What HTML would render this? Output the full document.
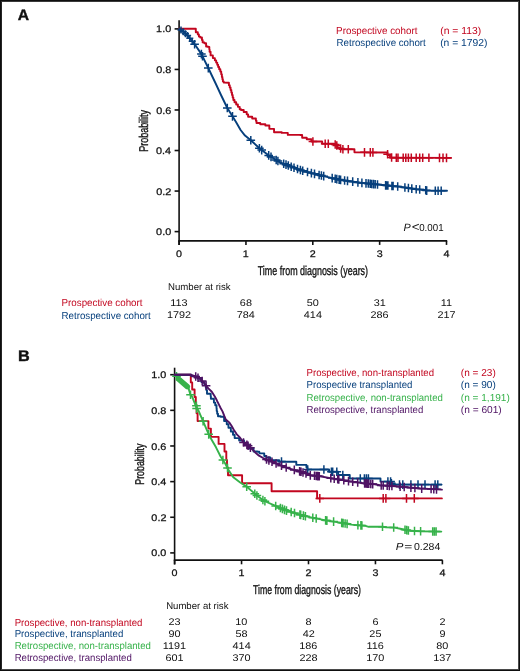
<!DOCTYPE html>
<html><head><meta charset="utf-8"><style>
html,body{margin:0;padding:0;background:#fff;}
.fig{position:relative;width:520px;height:671px;box-sizing:border-box;border:1px solid #0e0e0e;overflow:hidden;background:#fff;}
.in{position:absolute;left:0;top:0;right:0;bottom:0;border-style:solid;border-width:1px;border-color:#3a3a3a #4a4a4a #4a4a4a #252525;}
svg{position:absolute;left:-1px;top:-1px;will-change:transform;}
text{font-family:"Liberation Sans",sans-serif;text-rendering:geometricPrecision;}
</style></head><body><div class="fig"><div class="in"></div>
<svg width="520" height="671" viewBox="0 0 520 671">
<text transform="translate(17.81,20.40) scale(1.0176,1)" font-size="15.40" fill="#111" font-weight="bold" stroke="#111" stroke-width="0.4">A</text>
<line x1="179.10" y1="20.20" x2="179.10" y2="245.00" stroke="#111" stroke-width="1.6" stroke-linecap="butt"/>
<line x1="178.30" y1="240.90" x2="447.20" y2="240.90" stroke="#111" stroke-width="1.6" stroke-linecap="butt"/>
<line x1="174.60" y1="231.60" x2="179.10" y2="231.60" stroke="#111" stroke-width="1.6" stroke-linecap="butt"/>
<text transform="translate(156.10,235.15) scale(1.1300,1)" font-size="9.60" fill="#111" stroke="#111" stroke-width="0.25">0.0</text>
<line x1="174.60" y1="191.06" x2="179.10" y2="191.06" stroke="#111" stroke-width="1.6" stroke-linecap="butt"/>
<text transform="translate(156.26,194.61) scale(1.1300,1)" font-size="9.60" fill="#111" stroke="#111" stroke-width="0.25">0.2</text>
<line x1="174.60" y1="150.52" x2="179.10" y2="150.52" stroke="#111" stroke-width="1.6" stroke-linecap="butt"/>
<text transform="translate(156.05,154.07) scale(1.1300,1)" font-size="9.60" fill="#111" stroke="#111" stroke-width="0.25">0.4</text>
<line x1="174.60" y1="109.98" x2="179.10" y2="109.98" stroke="#111" stroke-width="1.6" stroke-linecap="butt"/>
<text transform="translate(156.16,113.53) scale(1.1300,1)" font-size="9.60" fill="#111" stroke="#111" stroke-width="0.25">0.6</text>
<line x1="174.60" y1="69.44" x2="179.10" y2="69.44" stroke="#111" stroke-width="1.6" stroke-linecap="butt"/>
<text transform="translate(156.16,72.99) scale(1.1300,1)" font-size="9.60" fill="#111" stroke="#111" stroke-width="0.25">0.8</text>
<line x1="174.60" y1="28.90" x2="179.10" y2="28.90" stroke="#111" stroke-width="1.6" stroke-linecap="butt"/>
<text transform="translate(156.10,32.45) scale(1.1300,1)" font-size="9.60" fill="#111" stroke="#111" stroke-width="0.25">1.0</text>
<line x1="179.10" y1="240.90" x2="179.10" y2="244.90" stroke="#111" stroke-width="1.6" stroke-linecap="butt"/>
<text transform="translate(176.09,257.00) scale(1.1300,1)" font-size="9.50" fill="#111" stroke="#111" stroke-width="0.25">0</text>
<line x1="245.95" y1="240.90" x2="245.95" y2="244.90" stroke="#111" stroke-width="1.6" stroke-linecap="butt"/>
<text transform="translate(242.81,257.00) scale(1.1300,1)" font-size="9.50" fill="#111" stroke="#111" stroke-width="0.25">1</text>
<line x1="312.80" y1="240.90" x2="312.80" y2="244.90" stroke="#111" stroke-width="1.6" stroke-linecap="butt"/>
<text transform="translate(309.82,257.00) scale(1.1300,1)" font-size="9.50" fill="#111" stroke="#111" stroke-width="0.25">2</text>
<line x1="379.65" y1="240.90" x2="379.65" y2="244.90" stroke="#111" stroke-width="1.6" stroke-linecap="butt"/>
<text transform="translate(376.67,257.00) scale(1.1300,1)" font-size="9.50" fill="#111" stroke="#111" stroke-width="0.25">3</text>
<line x1="446.50" y1="240.90" x2="446.50" y2="244.90" stroke="#111" stroke-width="1.6" stroke-linecap="butt"/>
<text transform="translate(443.57,257.00) scale(1.1300,1)" font-size="9.50" fill="#111" stroke="#111" stroke-width="0.25">4</text>
<text transform="translate(147.80,151.82) rotate(-90) scale(0.7013,1)" font-size="12.80" fill="#111" stroke="#111" stroke-width="0.35">Probability</text>
<text transform="translate(257.72,274.70) scale(0.6978,1)" font-size="12.80" fill="#111" stroke="#111" stroke-width="0.35">Time from diagnosis (years)</text>
<text transform="translate(403.38,230.70) scale(1.0183,1)" font-size="10.60" fill="#111" font-style="italic">P</text>
<text transform="translate(411.83,231.40) scale(1.0808,1)" font-size="12.40" fill="#111">&lt;</text>
<text transform="translate(419.21,230.60) scale(0.9635,1)" font-size="10.10" fill="#111">0.001</text>
<text transform="translate(336.11,33.80) scale(0.9726,1)" font-size="10.10" fill="#c2061f">Prospective cohort</text>
<text transform="translate(440.18,33.80) scale(1.0250,1)" font-size="10.10" fill="#c2061f">(n = 113)</text>
<text transform="translate(336.52,46.20) scale(0.9645,1)" font-size="10.10" fill="#063f7c">Retrospective cohort</text>
<text transform="translate(440.18,46.20) scale(1.0223,1)" font-size="10.10" fill="#063f7c">(n = 1792)</text>
<text transform="translate(168.03,290.10) scale(0.9940,1)" font-size="9.70" fill="#111">Number at risk</text>
<text transform="translate(61.52,306.30) scale(0.9690,1)" font-size="10.10" fill="#c2061f">Prospective cohort</text>
<text transform="translate(61.52,318.50) scale(0.9645,1)" font-size="10.10" fill="#063f7c">Retrospective cohort</text>
<text transform="translate(170.25,306.10) scale(1.1200,1)" font-size="9.70" fill="#111">113</text>
<text transform="translate(166.88,318.30) scale(1.1200,1)" font-size="9.70" fill="#111">1792</text>
<text transform="translate(239.87,306.10) scale(1.1200,1)" font-size="9.70" fill="#111">68</text>
<text transform="translate(236.80,318.30) scale(1.1200,1)" font-size="9.70" fill="#111">784</text>
<text transform="translate(306.74,306.10) scale(1.1200,1)" font-size="9.70" fill="#111">50</text>
<text transform="translate(303.81,318.30) scale(1.1200,1)" font-size="9.70" fill="#111">414</text>
<text transform="translate(373.65,306.10) scale(1.1200,1)" font-size="9.70" fill="#111">31</text>
<text transform="translate(370.55,318.30) scale(1.1200,1)" font-size="9.70" fill="#111">286</text>
<text transform="translate(440.71,306.10) scale(1.1200,1)" font-size="9.70" fill="#111">11</text>
<text transform="translate(437.46,318.30) scale(1.1200,1)" font-size="9.70" fill="#111">217</text>
<path d="M179.10,28.80 L194.90,28.80 L195.80,28.80 L195.80,32.20 L196.70,32.20 L197.80,32.20 L197.80,34.40 L198.90,34.40 L198.90,36.60 L200.25,36.60 L200.25,37.50 L201.60,37.50 L201.95,37.50 L201.95,39.95 L202.65,39.95 L202.65,42.40 L203.00,42.40 L204.35,42.40 L204.35,43.30 L205.70,43.30 L206.10,43.30 L206.10,46.50 L206.50,46.50 L207.85,46.50 L207.85,46.90 L209.20,46.90 L209.32,46.90 L209.32,49.35 L209.57,49.35 L209.57,51.80 L209.70,51.80 L210.60,51.80 L210.60,55.40 L211.50,55.40 L212.85,55.40 L212.85,58.10 L214.20,58.10 L214.85,58.10 L214.85,60.35 L216.15,60.35 L216.15,62.60 L216.80,62.60 L217.25,62.60 L217.25,64.80 L218.15,64.80 L218.15,67.00 L218.60,67.00 L219.18,67.00 L219.18,69.25 L220.32,69.25 L220.32,71.50 L220.90,71.50 L221.22,71.50 L221.22,74.20 L221.88,74.20 L221.88,76.90 L222.20,76.90 L222.42,76.90 L222.42,79.15 L222.88,79.15 L222.88,81.40 L223.10,81.40 L223.75,81.40 L223.75,82.50 L224.40,82.50 L228.50,82.70 L228.92,82.70 L228.92,85.13 L229.75,85.13 L229.75,87.57 L230.58,87.57 L230.58,90.00 L231.00,90.00 L231.34,90.00 L231.34,92.50 L232.01,92.50 L232.01,95.00 L232.69,95.00 L232.69,97.50 L233.36,97.50 L233.36,100.00 L233.70,100.00 L234.52,100.00 L234.52,102.25 L236.18,102.25 L236.18,104.50 L237.00,104.50 L237.90,104.50 L237.90,106.85 L239.70,106.85 L239.70,109.20 L240.60,109.20 L241.00,109.20 L241.00,110.00 L241.40,110.00 L243.70,110.00 L243.70,112.00 L246.00,112.00 L246.70,112.00 L246.70,114.35 L248.10,114.35 L248.10,116.70 L248.80,116.70 L252.20,116.70 L252.20,118.50 L255.60,118.50 L255.90,118.50 L255.90,120.75 L256.50,120.75 L256.50,123.00 L256.80,123.00 L260.25,123.00 L260.25,124.20 L263.70,124.20 L265.35,124.20 L265.35,125.50 L267.00,125.50 L269.35,125.50 L269.35,128.85 L274.05,128.85 L274.05,132.20 L276.40,132.20 L281.75,132.20 L281.75,132.90 L287.10,132.90 L287.80,132.90 L287.80,134.90 L288.50,134.90 L299.30,134.90 L300.60,135.00 L302.15,135.00 L302.15,137.70 L303.70,137.70 L306.75,137.70 L306.75,139.20 L309.80,139.20 L311.35,139.20 L311.35,141.50 L312.90,141.50 L321.40,141.50 L322.15,141.50 L322.15,143.80 L322.90,143.80 L332.20,143.80 L334.10,143.80 L334.10,144.60 L336.00,144.60 L337.50,144.60 L337.50,147.70 L339.00,147.70 L340.60,147.70 L340.60,149.20 L342.20,149.20 L353.70,149.20 L354.45,149.20 L354.45,152.30 L355.20,152.30 L386.80,152.50 L387.40,152.50 L387.40,155.10 L388.00,155.10 L390.00,155.10 L390.00,157.70 L392.00,157.70 L451.20,157.90" fill="none" stroke="#c2061f" stroke-width="1.9" stroke-linejoin="round" stroke-linecap="round"/>
<path d="M308.60,141.50h8.60M312.90,137.20v8.60M320.90,143.80h8.60M325.20,139.50v8.60M324.00,143.80h8.60M328.30,139.50v8.60M330.90,144.43h8.60M335.20,140.13v8.60M332.50,145.43h8.60M336.80,141.13v8.60M336.30,148.45h8.60M340.60,144.15v8.60M338.60,149.20h8.60M342.90,144.90v8.60M344.00,149.20h8.60M348.30,144.90v8.60M360.20,152.36h8.60M364.50,148.06v8.60M366.00,152.40h8.60M370.30,148.10v8.60M368.60,152.41h8.60M372.90,148.11v8.60M383.30,154.23h8.60M387.60,149.93v8.60M387.30,157.44h8.60M391.60,153.14v8.60M392.00,157.71h8.60M396.30,153.41v8.60M393.70,157.72h8.60M398.00,153.42v8.60M398.90,157.74h8.60M403.20,153.44v8.60M401.50,157.75h8.60M405.80,153.45v8.60M404.10,157.76h8.60M408.40,153.46v8.60M407.00,157.77h8.60M411.30,153.47v8.60M411.90,157.78h8.60M416.20,153.48v8.60M415.40,157.79h8.60M419.70,153.49v8.60M418.40,157.80h8.60M422.70,153.50v8.60M424.60,157.82h8.60M428.90,153.52v8.60M435.20,157.86h8.60M439.50,153.56v8.60M438.70,157.87h8.60M443.00,153.57v8.60M442.20,157.88h8.60M446.50,153.58v8.60" fill="none" stroke="#c2061f" stroke-width="1.5"/>
<path d="M179.30,28.80 L183.50,32.00 L187.50,35.50 L193.30,42.50 L195.40,45.30 L201.60,54.40 L208.50,68.50 L215.90,84.00 L221.00,95.00 L227.30,108.00 L233.10,117.30 L236.00,122.00 L240.60,130.00 L245.00,135.60 L250.80,140.20 L260.00,148.80 L269.20,155.80 L279.60,162.10 L291.20,166.70 L302.70,170.80 L311.40,173.10 L326.80,176.90 L340.00,179.80 L360.00,182.70 L380.00,184.80 L400.00,186.70 L416.00,189.30 L425.00,189.90 L426.50,190.60 L447.00,190.80" fill="none" stroke="#063f7c" stroke-width="1.9" stroke-linejoin="round" stroke-linecap="round"/>
<path d="M177.50,30.10h7.00M181.00,26.60v7.00M179.80,31.85h7.00M183.30,28.35v7.00M182.00,33.75h7.00M185.50,30.25v7.00M184.10,35.62h7.00M187.60,32.12v7.00M186.30,38.28h7.00M189.80,34.78v7.00M188.70,41.17h7.00M192.20,37.67v7.00" fill="none" stroke="#063f7c" stroke-width="1.5"/>
<path d="M190.30,44.23h8.60M194.60,39.93v8.60M197.10,54.11h8.60M201.40,49.81v8.60M198.20,56.24h8.60M202.50,51.94v8.60M204.00,68.09h8.60M208.30,63.79v8.60M223.00,108.00h8.60M227.30,103.70v8.60M228.20,116.34h8.60M232.50,112.04v8.60M246.50,140.20h8.60M250.80,135.90v8.60M255.10,148.24h8.60M259.40,143.94v8.60M257.40,150.09h8.60M261.70,145.79v8.60M264.40,155.42h8.60M268.70,151.12v8.60M266.70,156.89h8.60M271.00,152.59v8.60M271.90,160.04h8.60M276.20,155.74v8.60M273.60,161.07h8.60M277.90,156.77v8.60M279.40,163.73h8.60M283.70,159.43v8.60M281.70,164.64h8.60M286.00,160.34v8.60M284.00,165.55h8.60M288.30,161.25v8.60M286.90,166.70h8.60M291.20,162.40v8.60M289.70,167.70h8.60M294.00,163.40v8.60M293.20,168.95h8.60M297.50,164.65v8.60M296.10,169.98h8.60M300.40,165.68v8.60M298.40,170.80h8.60M302.70,166.50v8.60M303.20,172.07h8.60M307.50,167.77v8.60M307.10,173.10h8.60M311.40,168.80v8.60M310.20,173.86h8.60M314.50,169.56v8.60M314.80,175.00h8.60M319.10,170.70v8.60M317.10,175.57h8.60M321.40,171.27v8.60M319.40,176.14h8.60M323.70,171.84v8.60M327.90,178.09h8.60M332.20,173.79v8.60M330.90,178.75h8.60M335.20,174.45v8.60M332.50,179.10h8.60M336.80,174.80v8.60M334.80,179.60h8.60M339.10,175.30v8.60M336.30,179.89h8.60M340.60,175.59v8.60M340.30,180.47h8.60M344.60,176.17v8.60M343.20,180.89h8.60M347.50,176.59v8.60M348.40,181.64h8.60M352.70,177.34v8.60M353.60,182.40h8.60M357.90,178.10v8.60M357.60,182.90h8.60M361.90,178.60v8.60M361.70,183.33h8.60M366.00,179.03v8.60M364.00,183.57h8.60M368.30,179.27v8.60M365.90,183.77h8.60M370.20,179.47v8.60M367.40,183.93h8.60M371.70,179.63v8.60M369.20,184.12h8.60M373.50,179.82v8.60M370.90,184.30h8.60M375.20,180.00v8.60M373.20,184.54h8.60M377.50,180.24v8.60M381.30,185.33h8.60M385.60,181.03v8.60M382.40,185.44h8.60M386.70,181.14v8.60M383.60,185.55h8.60M387.90,181.25v8.60M387.60,185.93h8.60M391.90,181.63v8.60M388.80,186.04h8.60M393.10,181.74v8.60M393.40,186.48h8.60M397.70,182.18v8.60M400.60,187.50h8.60M404.90,183.20v8.60M404.10,188.06h8.60M408.40,183.76v8.60M407.50,188.62h8.60M411.80,184.32v8.60M411.90,189.31h8.60M416.20,185.01v8.60M415.40,189.55h8.60M419.70,185.25v8.60M421.40,190.23h8.60M425.70,185.93v8.60M422.40,190.60h8.60M426.70,186.30v8.60M431.00,190.69h8.60M435.30,186.39v8.60M433.80,190.71h8.60M438.10,186.41v8.60M436.90,190.74h8.60M441.20,186.44v8.60" fill="none" stroke="#063f7c" stroke-width="1.5"/>
<text transform="translate(17.95,361.00) scale(1.0539,1)" font-size="15.40" fill="#111" font-weight="bold" stroke="#111" stroke-width="0.4">B</text>
<line x1="174.60" y1="367.70" x2="174.60" y2="564.50" stroke="#111" stroke-width="1.6" stroke-linecap="butt"/>
<line x1="173.80" y1="560.10" x2="442.60" y2="560.10" stroke="#111" stroke-width="1.6" stroke-linecap="butt"/>
<line x1="170.20" y1="552.90" x2="174.60" y2="552.90" stroke="#111" stroke-width="1.6" stroke-linecap="butt"/>
<text transform="translate(151.20,556.45) scale(1.1300,1)" font-size="9.60" fill="#111" stroke="#111" stroke-width="0.25">0.0</text>
<line x1="170.20" y1="517.26" x2="174.60" y2="517.26" stroke="#111" stroke-width="1.6" stroke-linecap="butt"/>
<text transform="translate(151.36,520.81) scale(1.1300,1)" font-size="9.60" fill="#111" stroke="#111" stroke-width="0.25">0.2</text>
<line x1="170.20" y1="481.62" x2="174.60" y2="481.62" stroke="#111" stroke-width="1.6" stroke-linecap="butt"/>
<text transform="translate(151.15,485.17) scale(1.1300,1)" font-size="9.60" fill="#111" stroke="#111" stroke-width="0.25">0.4</text>
<line x1="170.20" y1="445.98" x2="174.60" y2="445.98" stroke="#111" stroke-width="1.6" stroke-linecap="butt"/>
<text transform="translate(151.26,449.53) scale(1.1300,1)" font-size="9.60" fill="#111" stroke="#111" stroke-width="0.25">0.6</text>
<line x1="170.20" y1="410.34" x2="174.60" y2="410.34" stroke="#111" stroke-width="1.6" stroke-linecap="butt"/>
<text transform="translate(151.26,413.89) scale(1.1300,1)" font-size="9.60" fill="#111" stroke="#111" stroke-width="0.25">0.8</text>
<line x1="170.20" y1="374.70" x2="174.60" y2="374.70" stroke="#111" stroke-width="1.6" stroke-linecap="butt"/>
<text transform="translate(151.20,378.25) scale(1.1300,1)" font-size="9.60" fill="#111" stroke="#111" stroke-width="0.25">1.0</text>
<line x1="174.60" y1="560.10" x2="174.60" y2="564.30" stroke="#111" stroke-width="1.6" stroke-linecap="butt"/>
<text transform="translate(171.59,576.40) scale(1.1300,1)" font-size="9.50" fill="#111" stroke="#111" stroke-width="0.25">0</text>
<line x1="241.55" y1="560.10" x2="241.55" y2="564.30" stroke="#111" stroke-width="1.6" stroke-linecap="butt"/>
<text transform="translate(238.41,576.40) scale(1.1300,1)" font-size="9.50" fill="#111" stroke="#111" stroke-width="0.25">1</text>
<line x1="308.50" y1="560.10" x2="308.50" y2="564.30" stroke="#111" stroke-width="1.6" stroke-linecap="butt"/>
<text transform="translate(305.52,576.40) scale(1.1300,1)" font-size="9.50" fill="#111" stroke="#111" stroke-width="0.25">2</text>
<line x1="375.45" y1="560.10" x2="375.45" y2="564.30" stroke="#111" stroke-width="1.6" stroke-linecap="butt"/>
<text transform="translate(372.47,576.40) scale(1.1300,1)" font-size="9.50" fill="#111" stroke="#111" stroke-width="0.25">3</text>
<line x1="442.40" y1="560.10" x2="442.40" y2="564.30" stroke="#111" stroke-width="1.6" stroke-linecap="butt"/>
<text transform="translate(439.47,576.40) scale(1.1300,1)" font-size="9.50" fill="#111" stroke="#111" stroke-width="0.25">4</text>
<text transform="translate(143.80,484.71) rotate(-90) scale(0.6893,1)" font-size="12.80" fill="#111" stroke="#111" stroke-width="0.35">Probability</text>
<text transform="translate(252.93,593.90) scale(0.6832,1)" font-size="12.80" fill="#111" stroke="#111" stroke-width="0.35">Time from diagnosis (years)</text>
<text transform="translate(395.66,549.80) scale(1.1204,1)" font-size="10.20" fill="#111" font-style="italic">P</text>
<text transform="translate(404.31,550.30) scale(1.3678,1)" font-size="10.10" fill="#111">=</text>
<text transform="translate(413.98,550.10) scale(1.0431,1)" font-size="10.10" fill="#111">0.284</text>
<text transform="translate(306.53,375.80) scale(0.9509,1)" font-size="10.10" fill="#c2061f">Prospective, non-transplanted</text>
<text transform="translate(460.80,375.80) scale(0.9960,1)" font-size="10.10" fill="#c2061f">(n = 23)</text>
<text transform="translate(306.53,388.35) scale(0.9527,1)" font-size="10.10" fill="#063f7c">Prospective transplanted</text>
<text transform="translate(460.80,388.35) scale(0.9960,1)" font-size="10.10" fill="#063f7c">(n = 90)</text>
<text transform="translate(306.53,400.90) scale(0.9527,1)" font-size="10.10" fill="#36b24a">Retrospective, non-transplanted</text>
<text transform="translate(460.79,400.90) scale(0.9985,1)" font-size="10.10" fill="#36b24a">(n = 1,191)</text>
<text transform="translate(306.53,413.45) scale(0.9502,1)" font-size="10.10" fill="#4e1263">Retrospective, transplanted</text>
<text transform="translate(460.79,413.45) scale(1.0066,1)" font-size="10.10" fill="#4e1263">(n = 601)</text>
<text transform="translate(166.13,609.40) scale(0.9892,1)" font-size="9.70" fill="#111">Number at risk</text>
<text transform="translate(14.63,625.50) scale(0.9524,1)" font-size="10.10" fill="#c2061f">Prospective, non-transplanted</text>
<text transform="translate(168.52,625.30) scale(1.1200,1)" font-size="9.70" fill="#111">23</text>
<text transform="translate(235.30,625.30) scale(1.1200,1)" font-size="9.70" fill="#111">10</text>
<text transform="translate(305.46,625.30) scale(1.1200,1)" font-size="9.70" fill="#111">8</text>
<text transform="translate(372.38,625.30) scale(1.1200,1)" font-size="9.70" fill="#111">6</text>
<text transform="translate(439.39,625.30) scale(1.1200,1)" font-size="9.70" fill="#111">2</text>
<text transform="translate(14.63,637.47) scale(0.9537,1)" font-size="10.10" fill="#063f7c">Prospective, transplanted</text>
<text transform="translate(168.52,637.27) scale(1.1200,1)" font-size="9.70" fill="#111">90</text>
<text transform="translate(235.52,637.27) scale(1.1200,1)" font-size="9.70" fill="#111">58</text>
<text transform="translate(302.63,637.27) scale(1.1200,1)" font-size="9.70" fill="#111">42</text>
<text transform="translate(369.37,637.27) scale(1.1200,1)" font-size="9.70" fill="#111">25</text>
<text transform="translate(439.39,637.27) scale(1.1200,1)" font-size="9.70" fill="#111">9</text>
<text transform="translate(14.63,649.44) scale(0.9527,1)" font-size="10.10" fill="#36b24a">Retrospective, non-transplanted</text>
<text transform="translate(162.76,649.24) scale(1.1200,1)" font-size="9.70" fill="#111">1191</text>
<text transform="translate(232.56,649.24) scale(1.1200,1)" font-size="9.70" fill="#111">414</text>
<text transform="translate(299.27,649.24) scale(1.1200,1)" font-size="9.70" fill="#111">186</text>
<text transform="translate(366.60,649.24) scale(1.1200,1)" font-size="9.70" fill="#111">116</text>
<text transform="translate(436.32,649.24) scale(1.1200,1)" font-size="9.70" fill="#111">80</text>
<text transform="translate(14.63,661.41) scale(0.9535,1)" font-size="10.10" fill="#4e1263">Retrospective, transplanted</text>
<text transform="translate(165.53,661.21) scale(1.1200,1)" font-size="9.70" fill="#111">601</text>
<text transform="translate(232.48,661.21) scale(1.1200,1)" font-size="9.70" fill="#111">370</text>
<text transform="translate(299.40,661.21) scale(1.1200,1)" font-size="9.70" fill="#111">228</text>
<text transform="translate(366.19,661.21) scale(1.1200,1)" font-size="9.70" fill="#111">170</text>
<text transform="translate(433.22,661.21) scale(1.1200,1)" font-size="9.70" fill="#111">137</text>
<path d="M174.60,374.80 L190.80,374.80 L190.80,382.40 L192.20,382.40 L192.20,389.50 L194.60,389.50 L194.60,397.00 L195.80,397.00 L195.80,405.00 L196.60,405.00 L196.60,413.20 L197.60,413.20 L197.60,421.10 L208.40,421.10 L208.40,428.60 L210.90,428.60 L210.90,436.90 L218.60,436.90 L218.60,443.90 L224.50,443.90 L224.50,451.50 L226.30,451.50 L226.30,460.00 L227.00,460.00 L227.00,467.50 L228.00,467.50 L228.00,475.30 L242.10,475.30 L242.10,483.20 L271.60,483.20 L271.60,491.20 L317.10,491.20 L317.10,498.40 L441.90,498.40" fill="none" stroke="#c2061f" stroke-width="1.9" stroke-linejoin="round" stroke-linecap="round"/>
<path d="M315.50,498.40h8.60M319.80,494.10v8.60M378.90,498.40h8.60M383.20,494.10v8.60M381.60,498.40h8.60M385.90,494.10v8.60M402.20,498.40h8.60M406.50,494.10v8.60M410.00,498.40h8.60M414.30,494.10v8.60" fill="none" stroke="#c2061f" stroke-width="1.5"/>
<path d="M174.60,374.90 L177.80,377.20 L183.50,381.80 L188.20,386.60 L189.30,391.00 L190.50,394.70 L192.20,396.90 L196.40,407.30 L198.50,410.70 L202.90,420.80 L205.50,426.80 L208.30,433.40 L209.30,435.80 L216.00,447.30 L220.60,456.50 L225.20,463.50 L228.70,470.40 L233.30,477.30 L240.20,482.50 L246.80,486.80 L256.20,494.90 L264.30,501.00 L275.00,505.70 L285.80,510.40 L296.60,513.70 L306.00,516.40 L313.50,517.90 L326.90,520.60 L340.40,522.60 L351.10,524.60 L364.60,525.70 L368.70,526.80 L382.50,526.80 L386.00,527.30 L394.60,527.60 L401.50,529.00 L410.20,530.80 L420.60,531.30 L441.30,531.60" fill="none" stroke="#36b24a" stroke-width="1.9" stroke-linejoin="round" stroke-linecap="round"/>
<path d="M172.20,376.27h8.60M176.50,371.97v8.60M186.20,394.70h8.60M190.50,390.40v8.60M198.80,421.26h8.60M203.10,416.96v8.60M204.40,434.36h8.60M208.70,430.06v8.60M218.60,460.00h8.60M222.90,455.70v8.60M223.20,468.03h8.60M227.50,463.73v8.60M242.40,486.73h8.60M246.70,482.43v8.60M250.50,493.69h8.60M254.80,489.39v8.60M252.60,495.43h8.60M256.90,491.13v8.60M258.60,499.95h8.60M262.90,495.65v8.60M260.60,501.26h8.60M264.90,496.96v8.60M271.40,506.00h8.60M275.70,501.70v8.60M276.10,508.05h8.60M280.40,503.75v8.60M278.10,508.92h8.60M282.40,504.62v8.60M280.20,509.83h8.60M284.50,505.53v8.60M282.20,510.61h8.60M286.50,506.31v8.60M286.90,512.05h8.60M291.20,507.75v8.60M290.20,513.06h8.60M294.50,508.76v8.60M295.60,514.65h8.60M299.90,510.35v8.60M296.40,514.88h8.60M300.70,510.58v8.60M299.10,515.65h8.60M303.40,511.35v8.60M301.10,516.23h8.60M305.40,511.93v8.60M308.50,517.76h8.60M312.80,513.46v8.60M311.90,518.44h8.60M316.20,514.14v8.60M321.30,520.34h8.60M325.60,516.04v8.60M322.60,520.60h8.60M326.90,516.30v8.60M329.30,521.59h8.60M333.60,517.29v8.60M337.40,522.84h8.60M341.70,518.54v8.60M338.80,523.10h8.60M343.10,518.80v8.60M340.80,523.48h8.60M345.10,519.18v8.60M342.80,523.85h8.60M347.10,519.55v8.60M353.60,525.15h8.60M357.90,520.85v8.60M356.60,525.40h8.60M360.90,521.10v8.60M357.60,525.48h8.60M361.90,521.18v8.60M378.20,526.80h8.60M382.50,522.50v8.60M389.40,527.57h8.60M393.70,523.27v8.60M400.70,529.72h8.60M405.00,525.42v8.60M402.40,530.08h8.60M406.70,525.78v8.60M404.10,530.43h8.60M408.40,526.13v8.60M410.20,531.01h8.60M414.50,526.71v8.60M416.30,531.30h8.60M420.60,527.00v8.60M428.40,531.48h8.60M432.70,527.18v8.60M430.10,531.50h8.60M434.40,527.20v8.60M431.80,531.52h8.60M436.10,527.22v8.60" fill="none" stroke="#36b24a" stroke-width="1.5"/>
<path d="M192.10,405.80h8.60M196.40,401.50v8.60M192.30,408.60h8.60M196.60,404.30v8.60" fill="none" stroke="#36b24a" stroke-width="1.5"/>
<path d="M178.5,379 L187.3,386.6" stroke="#36b24a" stroke-width="5.5" stroke-linecap="round"/>
<path d="M174.60,374.80 L190.50,374.80 L191.35,374.80 L191.35,376.00 L192.20,376.00 L193.95,376.00 L193.95,376.50 L195.70,376.50 L197.60,376.50 L197.60,378.50 L199.50,378.50 L201.45,378.50 L201.45,382.10 L203.40,382.10 L204.45,382.10 L204.45,385.00 L205.50,385.00 L205.82,385.00 L205.82,387.65 L206.48,387.65 L206.48,390.30 L206.80,390.30 L207.00,390.30 L207.00,393.80 L207.20,393.80 L210.60,393.80 L210.70,393.80 L210.70,396.30 L210.90,396.30 L210.90,398.80 L211.00,398.80 L213.70,398.80 L213.90,398.80 L213.90,402.60 L214.10,402.60 L215.25,402.60 L215.25,405.30 L216.40,405.30 L216.50,405.30 L216.50,408.20 L216.70,408.20 L216.70,411.10 L216.80,411.10 L217.20,411.10 L217.20,413.70 L218.00,413.70 L218.00,416.30 L218.40,416.30 L220.65,416.30 L220.65,416.80 L222.90,416.80 L224.10,416.80 L224.10,421.00 L225.30,421.00 L226.75,421.00 L226.75,424.30 L228.20,424.30 L228.45,424.30 L228.45,427.70 L228.70,427.70 L230.85,427.70 L230.85,431.50 L233.00,431.50 L233.00,434.80 L234.65,434.80 L234.65,438.10 L236.30,438.10 L239.15,438.10 L239.15,440.50 L242.00,440.50 L244.00,440.50 L244.00,444.50 L246.00,444.50 L248.75,444.50 L248.75,448.50 L251.50,448.50 L253.55,448.50 L253.55,451.50 L255.60,451.50 L257.45,451.50 L257.45,451.80 L259.30,451.80 L259.50,453.40 L264.00,453.40 L264.25,453.40 L264.25,456.00 L264.50,456.00 L266.25,456.00 L266.25,457.50 L268.00,457.50 L270.35,457.50 L270.35,460.10 L272.70,460.10 L276.10,460.10 L279.15,460.10 L279.15,461.80 L282.20,461.80 L295.60,461.80 L296.30,461.80 L296.30,464.90 L297.00,464.90 L306.00,464.90 L306.43,464.90 L306.43,467.20 L307.27,467.20 L307.27,469.50 L307.70,469.50 L328.60,469.50 L329.05,469.50 L329.05,471.70 L329.50,471.70 L337.80,471.70 L338.15,471.70 L338.15,475.00 L338.50,475.00 L349.50,475.00 L349.75,475.00 L349.75,478.50 L350.00,478.50 L379.80,478.50 L380.50,478.50 L380.50,481.60 L381.20,481.60 L390.60,481.60 L391.30,481.60 L391.30,484.60 L392.00,484.60 L441.50,484.60" fill="none" stroke="#063f7c" stroke-width="1.9" stroke-linejoin="round" stroke-linecap="round"/>
<path d="M277.20,461.60h8.60M281.50,457.30v8.60M303.40,469.50h8.60M307.70,465.20v8.60M319.60,469.50h8.60M323.90,465.20v8.60M327.10,471.70h8.60M331.40,467.40v8.60M328.40,471.70h8.60M332.70,467.40v8.60M332.50,471.70h8.60M336.80,467.40v8.60M338.50,475.00h8.60M342.80,470.70v8.60M356.00,478.50h8.60M360.30,474.20v8.60M360.10,478.50h8.60M364.40,474.20v8.60M362.10,478.50h8.60M366.40,474.20v8.60M364.10,478.50h8.60M368.40,474.20v8.60M383.60,481.60h8.60M387.90,477.30v8.60M386.30,481.60h8.60M390.60,477.30v8.60M387.10,483.31h8.60M391.40,479.01v8.60M395.20,484.60h8.60M399.50,480.30v8.60M398.50,484.60h8.60M402.80,480.30v8.60M406.60,484.60h8.60M410.90,480.30v8.60M413.70,484.60h8.60M418.00,480.30v8.60M420.70,484.60h8.60M425.00,480.30v8.60M430.80,484.60h8.60M435.10,480.30v8.60M433.50,484.60h8.60M437.80,480.30v8.60" fill="none" stroke="#063f7c" stroke-width="1.5"/>
<path d="M174.60,374.80 L191.10,374.80 L195.70,376.50 L199.50,378.50 L203.40,382.10 L206.00,385.50 L208.30,388.40 L211.80,391.80 L214.80,396.50 L216.80,400.30 L218.70,404.20 L220.60,408.00 L222.50,411.40 L224.40,416.20 L225.80,419.50 L229.20,422.40 L231.50,425.70 L233.90,430.00 L236.80,434.30 L240.10,437.70 L243.50,442.50 L247.50,445.30 L251.50,448.70 L255.00,452.20 L259.00,455.70 L263.10,458.00 L267.10,459.70 L272.70,462.10 L282.80,466.20 L289.60,468.80 L294.30,469.90 L300.00,471.50 L306.40,473.50 L310.00,475.30 L319.80,476.30 L333.00,478.60 L340.00,479.60 L350.00,481.40 L366.40,483.60 L375.00,484.30 L379.80,485.30 L396.00,486.30 L420.00,488.50 L441.90,489.60" fill="none" stroke="#4e1263" stroke-width="1.9" stroke-linejoin="round" stroke-linecap="round"/>
<path d="M191.40,376.50h8.60M195.70,372.20v8.60M193.70,377.71h8.60M198.00,373.41v8.60M197.90,380.99h8.60M202.20,376.69v8.60M201.80,385.63h8.60M206.10,381.33v8.60M239.20,442.50h8.60M243.50,438.20v8.60M242.60,444.88h8.60M246.90,440.58v8.60M243.80,445.81h8.60M248.10,441.51v8.60M246.10,447.76h8.60M250.40,443.46v8.60M262.20,459.44h8.60M266.50,455.14v8.60M264.60,460.47h8.60M268.90,456.17v8.60M267.70,461.80h8.60M272.00,457.50v8.60M271.80,463.48h8.60M276.10,459.18v8.60M277.20,465.67h8.60M281.50,461.37v8.60M281.90,467.50h8.60M286.20,463.20v8.60M290.00,469.90h8.60M294.30,465.60v8.60M295.30,471.39h8.60M299.60,467.09v8.60M296.70,471.81h8.60M301.00,467.51v8.60M298.70,472.44h8.60M303.00,468.14v8.60M301.70,473.38h8.60M306.00,469.07v8.60M306.00,475.33h8.60M310.30,471.03v8.60M310.20,475.76h8.60M314.50,471.46v8.60M312.00,475.94h8.60M316.30,471.64v8.60M313.50,476.10h8.60M317.80,471.80v8.60M315.00,476.25h8.60M319.30,471.95v8.60M326.50,478.22h8.60M330.80,473.92v8.60M329.90,478.77h8.60M334.20,474.47v8.60M333.40,479.27h8.60M337.70,474.97v8.60M334.50,479.43h8.60M338.80,475.13v8.60M339.50,480.28h8.60M343.80,475.98v8.60M344.20,481.13h8.60M348.50,476.83v8.60M348.40,481.76h8.60M352.70,477.46v8.60M353.40,482.43h8.60M357.70,478.13v8.60M360.30,483.36h8.60M364.60,479.06v8.60M361.50,483.52h8.60M365.80,479.22v8.60M363.00,483.67h8.60M367.30,479.37v8.60M364.50,483.80h8.60M368.80,479.50v8.60M366.50,483.96h8.60M370.80,479.66v8.60M368.40,484.11h8.60M372.70,479.81v8.60M376.90,485.39h8.60M381.20,481.09v8.60M378.90,485.51h8.60M383.20,481.21v8.60M382.90,485.76h8.60M387.20,481.46v8.60M385.00,485.89h8.60M389.30,481.59v8.60M387.60,486.05h8.60M391.90,481.75v8.60M395.80,486.68h8.60M400.10,482.38v8.60M399.90,487.05h8.60M404.20,482.75v8.60M406.60,487.67h8.60M410.90,483.37v8.60M410.60,488.03h8.60M414.90,483.73v8.60M417.40,488.59h8.60M421.70,484.29v8.60M426.80,489.06h8.60M431.10,484.76v8.60M429.50,489.19h8.60M433.80,484.89v8.60M432.20,489.33h8.60M436.50,485.03v8.60" fill="none" stroke="#4e1263" stroke-width="1.5"/>
</svg></div></body></html>
